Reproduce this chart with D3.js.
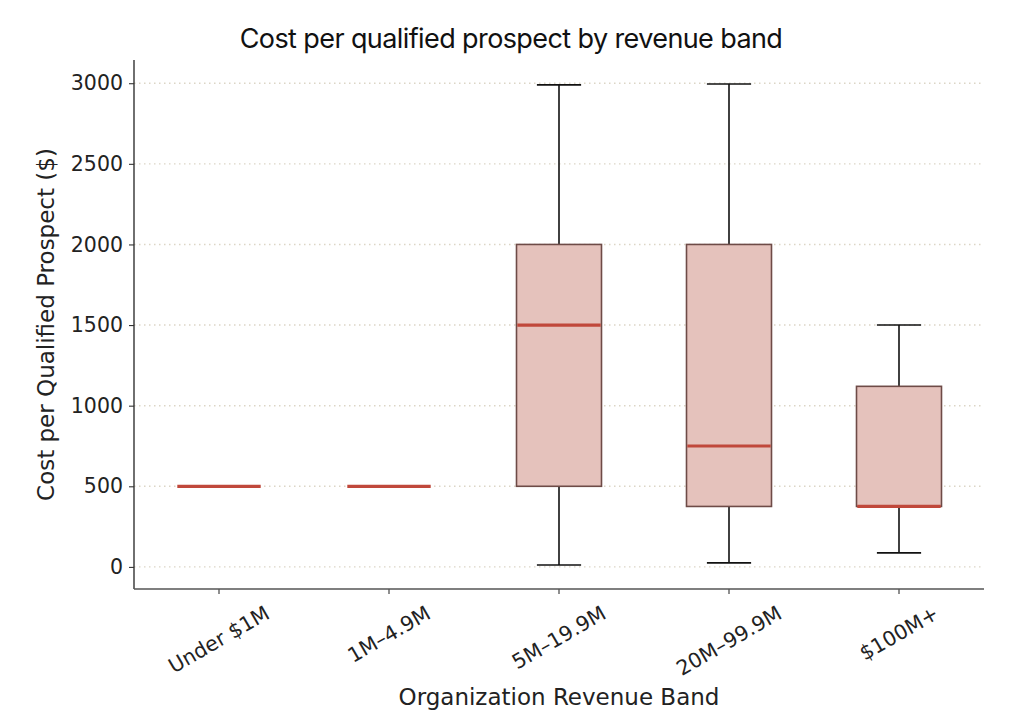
<!DOCTYPE html>
<html><head><meta charset="utf-8">
<script src="https://cdn.jsdelivr.net/npm/d3@7"></script>
<style>body{margin:0;background:#fff}</style>
</head><body>
<svg id="chart" width="1024" height="728"></svg>
<script>
const categories = ["Under $1M", "1M\u20134.9M", "5M\u201319.9M", "20M\u201399.9M", "$100M+"];
const whiskerLow  = [500, 500, 12, 25, 87];
const q1          = [500, 500, 500, 375, 375];
const medians     = [500, 500, 1500, 750, 375];
const q3          = [500, 500, 2000, 2000, 1120];
const whiskerHigh = [500, 500, 2990, 2995, 1500];
const yTicks = [0, 500, 1000, 1500, 2000, 2500, 3000];

const data = categories.map((c, i) => ({c, lo: whiskerLow[i], q1: q1[i], med: medians[i], q3: q3[i], hi: whiskerHigh[i]}));

const svg = d3.select("#chart");
const L = 134, R = 984, T = 60, B = 589;
const x = d3.scaleBand().domain(categories).range([L, R]).paddingInner(0).paddingOuter(0);
const y = d3.scaleLinear().domain([-137, 3144]).range([B, T]);
const bw = x.bandwidth();
const cx = d => x(d.c) + bw / 2;

// grid
svg.append("g").selectAll("line").data(yTicks).join("line")
  .attr("x1", L).attr("x2", R).attr("y1", d => y(d)).attr("y2", d => y(d))
  .attr("stroke", "#dcd5c6").attr("stroke-width", 1.4).attr("stroke-dasharray", "1.5,3.5");

const g = svg.append("g");
// whiskers
g.selectAll(".wl").data(data).join("line")
  .attr("x1", cx).attr("x2", cx).attr("y1", d => y(d.lo)).attr("y2", d => y(d.q1))
  .attr("stroke", "#111").attr("stroke-width", 1.6);
g.selectAll(".wh").data(data).join("line")
  .attr("x1", cx).attr("x2", cx).attr("y1", d => y(d.hi)).attr("y2", d => y(d.q3))
  .attr("stroke", "#111").attr("stroke-width", 1.6);
// caps
const capW = bw * 0.26;
g.selectAll(".cl").data(data.filter(d => d.lo !== d.q1)).join("line")
  .attr("x1", d => cx(d) - capW / 2).attr("x2", d => cx(d) + capW / 2)
  .attr("y1", d => y(d.lo)).attr("y2", d => y(d.lo)).attr("stroke", "#111").attr("stroke-width", 1.6);
g.selectAll(".ch").data(data.filter(d => d.hi !== d.q3)).join("line")
  .attr("x1", d => cx(d) - capW / 2).attr("x2", d => cx(d) + capW / 2)
  .attr("y1", d => y(d.hi)).attr("y2", d => y(d.hi)).attr("stroke", "#111").attr("stroke-width", 1.6);
// boxes
const boxW = bw * 0.5;
g.selectAll("rect").data(data).join("rect")
  .attr("x", d => cx(d) - boxW / 2).attr("width", boxW)
  .attr("y", d => y(d.q3)).attr("height", d => y(d.q1) - y(d.q3))
  .attr("fill", "#e5c2bc").attr("stroke", "#6e4b47").attr("stroke-width", 1.6);
// medians
g.selectAll(".med").data(data).join("line")
  .attr("x1", d => cx(d) - boxW / 2 + 0.8).attr("x2", d => cx(d) + boxW / 2 - 0.8)
  .attr("y1", d => y(d.med)).attr("y2", d => y(d.med))
  .attr("stroke", "#c0483b").attr("stroke-width", 3.2);

// axes
const font = "DejaVu Sans";
const fs = 20.5;
const yAxis = svg.append("g").attr("transform", `translate(${L},0)`)
  .call(d3.axisLeft(y).tickValues(yTicks).tickSize(5).tickPadding(6).tickFormat(d3.format("d")));
yAxis.select(".domain").remove();
yAxis.selectAll(".tick line").attr("stroke", "#333").attr("stroke-width", 1.1);
yAxis.selectAll("text").attr("font-family", font).attr("font-size", fs).attr("fill", "#222");

const xAxis = svg.append("g").attr("transform", `translate(0,${B})`)
  .call(d3.axisBottom(x).tickSize(5).tickFormat(""));
xAxis.select(".domain").remove();
xAxis.selectAll(".tick line").attr("stroke", "#333").attr("stroke-width", 1.1);

// spines
svg.append("line").attr("x1", L).attr("x2", L).attr("y1", T).attr("y2", B).attr("stroke", "#333").attr("stroke-width", 1.4);
svg.append("line").attr("x1", L).attr("x2", R).attr("y1", B).attr("y2", B).attr("stroke", "#555").attr("stroke-width", 1.6);

// rotated x labels
const ang = 30 * Math.PI / 180;
const xl = svg.append("g").selectAll("text").data(categories).join("text")
  .attr("font-family", font).attr("font-size", fs).attr("fill", "#222")
  .attr("text-anchor", "middle").attr("dominant-baseline", "central")
  .text(d => d);
xl.each(function(d) {
  const w = this.getComputedTextLength();
  const h = fs * 0.95;
  const bh = w * Math.sin(ang) + h * Math.cos(ang);
  const px = x(d) + bw / 2, py = B + 14 + bh / 2;
  d3.select(this).attr("transform", `translate(${px},${py}) rotate(-30)`);
});

// axis titles
svg.append("text").attr("x", (L + R) / 2).attr("y", 705).attr("text-anchor", "middle")
  .attr("font-family", font).attr("font-size", 23).attr("fill", "#222").text("Organization Revenue Band");
svg.append("text").attr("transform", `translate(54,${(T + B) / 2}) rotate(-90)`).attr("text-anchor", "middle")
  .attr("font-family", font).attr("font-size", 23).attr("fill", "#222").text("Cost per Qualified Prospect ($)");

// title
svg.append("text").attr("x", 511).attr("y", 48).attr("text-anchor", "middle")
  .attr("font-family", "Inter").attr("font-size", 27).attr("letter-spacing", -0.6).attr("fill", "#111")
  .text("Cost per qualified prospect by revenue band");
</script>
</body></html>
